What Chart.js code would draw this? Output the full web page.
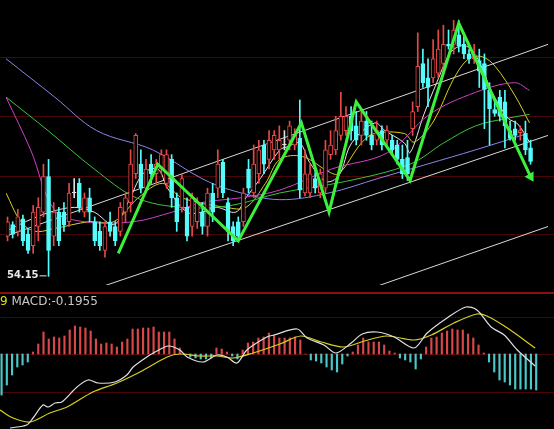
<!DOCTYPE html>
<html>
<head>
<meta charset="utf-8">
<script src="https://cdn.jsdelivr.net/npm/chart.js@4.4.1/dist/chart.umd.min.js"></script>
<style>
  html, body { margin: 0; padding: 0; background: #000; }
  #wrap { position: relative; width: 554px; height: 429px; overflow: hidden; }
  #priceBox { position: absolute; left: 0; top: 0; width: 554px; height: 291px; }
  #macdBox { position: absolute; left: 0; top: 291px; width: 554px; height: 138px; }
  #macdLabel { position: absolute; left: 0; top: 294px; font: 12px "DejaVu Sans", sans-serif; color: #c8c8c8; }
  #macdLabel span { color: #e0e000; }
</style>
</head>
<body>
<div id="wrap">
  <div id="priceBox"><canvas id="priceChart" width="554" height="291"></canvas></div>
  <div id="macdBox"><canvas id="macdChart" width="554" height="138"></canvas></div>
  <div id="macdLabel"><span>9</span> MACD:-0.1955</div>
</div>
<script>
// candles (one per trading day)
const openPrices = [56.25,56.85,56.5,57.15,56.35,55.75,56.75,57.5,59.35,56.25,57.5,57.5,57.0,58.5,59.0,57.5,58.25,57.0,56.5,55.5,57.0,56.75,56.5,57.5,58.0,59.5,60.0,58.75,60.0,59.5,59.75,59.0,60.25,58.25,57.75,57.75,56.75,57.0,57.5,56.75,58.5,58.75,60.1,58.0,56.75,57.0,57.0,59.75,58.5,59.5,61.0,60.25,60.75,60.75,61.0,61.25,61.0,61.35,58.5,58.5,59.25,58.5,58.75,60.5,60.75,61.5,61.75,62.5,62.0,61.5,62.25,61.5,61.25,61.75,61.25,61.25,61.0,60.25,60.35,61.85,63.0,65.25,64.5,64.5,64.75,65.25,66.25,66.25,66.75,66.25,65.75,65.5,65.4,65.25,63.85,62.85,63.5,63.25,61.75,61.85,61.65,61.6,60.85];
const closePrices = [57.0,56.35,57.25,56.0,55.5,57.5,57.75,59.35,55.5,57.5,56.0,56.85,58.5,58.55,57.75,58.25,57.5,56.0,55.75,56.75,56.5,56.0,57.75,58.25,60.0,61.5,58.75,59.75,59.5,60.0,60.5,60.5,58.25,57.0,59.25,56.25,58.25,58.0,56.75,58.5,57.5,60.0,58.5,56.5,56.0,56.25,58.5,58.75,60.0,60.75,60.0,61.25,61.5,61.25,61.05,62.0,61.5,58.65,59.5,59.5,58.75,59.5,60.75,61.0,61.75,62.5,62.5,61.75,61.25,62.25,61.5,61.0,61.75,61.0,61.75,60.75,60.25,59.5,59.5,62.75,65.1,64.25,64.0,65.5,66.0,66.25,66.15,67.0,66.15,65.75,65.5,65.75,64.85,63.9,62.9,62.65,62.5,62.0,61.35,61.5,61.75,60.75,60.15];
const highPrices = [57.25,57.0,57.65,57.35,56.65,57.85,58.25,60.0,60.25,58.0,57.75,58.0,59.0,59.25,59.25,58.5,58.75,57.25,57.0,57.0,57.5,57.0,58.0,58.5,60.75,61.6,60.75,60.25,60.5,60.25,60.75,60.75,60.5,58.5,59.5,58.25,58.5,58.25,58.0,58.75,59.0,60.75,60.25,58.25,57.0,57.25,58.75,60.25,61.0,61.25,61.25,61.75,61.75,62.0,61.75,62.25,61.85,63.35,60.75,60.0,59.75,59.75,61.25,61.75,62.5,63.75,63.0,63.0,62.75,62.75,62.75,62.25,62.25,62.0,62.0,61.5,61.25,61.0,61.25,63.25,66.85,66.0,65.5,66.5,67.0,67.25,67.0,67.5,67.5,66.75,66.0,66.25,66.0,65.75,64.25,63.25,63.85,63.85,62.25,62.25,62.0,62.25,61.25];
const lowPrices = [56.0,56.15,56.25,55.75,55.35,55.35,56.0,57.25,54.15,55.75,55.75,56.5,56.75,58.25,57.5,57.25,57.0,55.75,55.5,55.15,56.25,55.75,56.25,57.0,57.5,59.25,58.5,58.5,59.0,59.0,59.5,58.75,57.75,56.5,57.5,56.0,56.25,56.65,56.35,56.25,57.0,58.25,58.25,56.0,55.75,56.0,56.75,58.5,58.25,59.0,59.5,59.75,60.25,60.25,60.75,60.75,60.75,58.25,58.35,58.25,58.5,58.25,58.5,60.25,60.5,61.25,61.5,61.25,61.0,61.0,61.25,60.75,61.0,60.75,60.85,60.5,60.0,59.25,59.15,61.5,62.75,64.0,63.0,64.25,64.5,64.75,66.0,65.75,65.85,65.5,65.25,65.25,64.0,61.85,61.0,62.5,62.25,60.85,61.25,61.25,61.25,60.5,60.0];

// moving averages, read at sample days
const ma5Days = [-0.3,3.5,8.3,13.1,16.9,20.7,23.5,26.4,29.3,31.2,35,37.9,40.7,44.5,46.5,49.3,53.1,54.5,57,58.9,62.1,64.6,67.1,71.6,73.6,77.4,78.5,81.2,83.7,86.2,88.1,89.9,91.9,94.5,97.6,99.5,101.8];
const ma5Values = [56.5,57.0,57.5,57.75,57.5,56.85,58.0,59.5,59.75,58.75,57.5,57.5,57.75,57.5,58.25,59.25,60.75,60.9,61.1,60.1,59.1,59.4,61.1,62.15,61.75,61.1,60.6,62.6,64.25,65.75,66.15,66.1,65.4,63.75,62.4,62.1,61.15];
const ma10Days = [-0.3,2.6,5.4,9.2,15.9,20.7,25.5,30.2,34,42.6,46.5,50.3,53.1,57.5,62.7,64.6,69,71.6,77.4,79.3,83.1,86.9,89.9,92.6,95.1,98.9,101.8];
const ma10Values = [58.5,57.0,56.5,56.65,57.0,57.0,58.25,59.0,58.25,57.75,57.75,59.0,60.25,60.4,59.6,59.5,61.1,61.6,61.6,61.15,62.25,64.4,65.5,65.6,65.1,63.6,62.15];
const ma20Days = [-0.3,4.5,9.2,15,24.5,32.1,37.9,45.5,53.1,63.2,74.1,82.3,91.3,98.9,101.8];
const ma20Values = [63.5,60.75,57.6,57.0,57.0,57.5,58.0,58.25,58.65,59.75,60.6,62.6,63.75,64.25,63.85];
const ma30Days = [-0.3,7.9,16.9,25.1,34,43.6,53.1,65.9,78.5,85,91.3,97.6,101.8];
const ma30Values = [63.5,61.75,59.75,58.25,57.75,57.85,58.5,59.1,60.0,61.1,62.0,62.4,62.6];
const ma60Days = [-0.3,9.2,17.4,28.3,37.9,44.2,53.1,62.7,72.2,81.8,91.3,101.4];
const ma60Values = [65.5,63.5,61.75,60.75,59.25,58.6,58.15,58.5,59.25,60.0,60.75,61.6];

// zigzag swing points and trend channel
const swingDays = [21.6,29.3,45,57.3,62.7,68,78.5,88,102];
const swingPrices = [55.35,60.0,56.0,62.15,57.5,63.25,59.15,67.35,59.35];
const channelTop = [[-0.3,56.25],[105.4,66.25]];
const channelMid = [[18.8,53.65],[105.4,61.5]];
const channelLow = [[72.2,53.65],[105.4,56.75]];
const priceGrid = [65.6,62.5,59.4,56.35];
const lowMark = { day: 8, price: 54.15 };

// MACD panel
const macdHist = [-0.615,-0.465,-0.315,-0.195,-0.165,-0.12,0.03,0.15,0.33,0.225,0.255,0.24,0.27,0.36,0.42,0.405,0.39,0.345,0.225,0.15,0.165,0.15,0.105,0.18,0.225,0.375,0.375,0.39,0.39,0.405,0.33,0.33,0.33,0.225,0.09,0,-0.045,-0.06,-0.075,-0.075,-0.06,0.09,0.075,0.03,-0.03,-0.075,0.06,0.165,0.18,0.24,0.255,0.315,0.285,0.24,0.24,0.24,0.255,0.21,0,-0.09,-0.105,-0.135,-0.195,-0.24,-0.27,-0.15,-0.03,0.03,0.135,0.24,0.18,0.18,0.18,0.135,0.045,0.015,-0.06,-0.09,-0.12,-0.225,-0.075,0.105,0.24,0.255,0.315,0.345,0.375,0.36,0.36,0.3,0.24,0.135,0.015,-0.12,-0.27,-0.39,-0.42,-0.465,-0.525,-0.525,-0.525,-0.525,-0.54];
const difDays = [1.6,4.8,6,7.9,8.9,10.2,11.5,14.4,16.5,18.4,21.6,23.9,25.1,27.7,29.3,31.8,34,35.4,38.4,41.1,43,44.9,46.8,50.6,52,56.4,58.3,61.5,63.8,66.7,68.8,71.6,74.9,78.7,81.2,85,88.6,90.7,93.4,95.9,98.4,101.8];
const difValues = [-1.11,-1.065,-0.96,-0.765,-0.795,-0.735,-0.72,-0.495,-0.39,-0.435,-0.42,-0.315,-0.195,-0.045,0.03,0.12,0.06,-0.045,-0.12,-0.015,-0.045,-0.135,0.06,0.255,0.285,0.375,0.24,0.135,0.015,0.165,0.3,0.33,0.255,0.09,0.315,0.54,0.705,0.66,0.405,0.285,0.06,-0.18];
const deaDays = [-0.3,2.2,5.4,9.2,12.5,17.4,22,26.4,31.6,34,37.9,41.1,44.2,48,53.1,57.1,61,65.3,69.2,73.5,78.7,82,86.3,90.7,92.6,96.5,101.8];
const deaValues = [-0.84,-0.96,-1.02,-0.885,-0.795,-0.57,-0.435,-0.27,-0.045,0,-0.03,-0.03,-0.06,0.015,0.15,0.27,0.18,0.105,0.195,0.27,0.21,0.285,0.465,0.6,0.57,0.39,0.09];
const macdGrid = [0.555,0,-0.57];

const RED = '#e84848';
const CYAN = '#54fcfc';
const GRID_RED = '#4a0606';

function pts(days, values) {
    return days.map((d, i) => ({ x: d, y: values[i] }));
}

function maLine(days, values, color) {
    return {
        type: 'line',
        data: pts(days, values),
        borderColor: color,
        borderWidth: 1,
        pointRadius: 0,
        tension: 0.35,
        order: 3
    };
}

function segLine(seg) {
    return {
        type: 'line',
        data: seg.map(p => ({ x: p[0], y: p[1] })),
        borderColor: '#d8d8d8',
        borderWidth: 1,
        pointRadius: 0,
        order: 4
    };
}

// draws horizontal grid rows behind the marks
const gridPlugin = {
    id: 'gridRows',
    beforeDatasetsDraw(chart, args, opts) {
        const ctx = chart.ctx;
        const y = chart.scales.y;
        ctx.save();
        ctx.strokeStyle = GRID_RED;
        ctx.lineWidth = 1;
        opts.rows.forEach(v => {
            const py = Math.round(y.getPixelForValue(v)) + 0.5;
            ctx.beginPath();
            ctx.moveTo(0, py);
            ctx.lineTo(chart.width, py);
            ctx.stroke();
        });
        ctx.restore();
    }
};

const lowLabelPlugin = {
    id: 'lowLabel',
    afterDatasetsDraw(chart) {
        const ctx = chart.ctx;
        const px = chart.scales.x.getPixelForValue(lowMark.day);
        const py = chart.scales.y.getPixelForValue(lowMark.price);
        ctx.save();
        ctx.fillStyle = '#e8e8e8';
        ctx.font = 'bold 10px "DejaVu Sans", sans-serif';
        ctx.textBaseline = 'middle';
        ctx.textAlign = 'right';
        ctx.fillText(lowMark.price.toFixed(2), px - 10, py - 1);
        ctx.strokeStyle = '#e8e8e8';
        ctx.beginPath();
        ctx.moveTo(px - 9, py - 0.5);
        ctx.lineTo(px - 2, py - 0.5);
        ctx.stroke();
        ctx.restore();
    }
};

const days = openPrices.map((_, i) => i);
const candleColor = days.map(i => {
    if (Math.abs(closePrices[i] - openPrices[i]) < 0.06) return '#e0e0e0';
    return closePrices[i] > openPrices[i] ? RED : CYAN;
});

const baseScales = (yMin, yMax) => ({
    x: { type: 'linear', min: -0.3, max: 105.4, offset: false, display: false },
    y: { min: yMin, max: yMax, display: false }
});

new Chart(document.getElementById('priceChart'), {
    type: 'bar',
    data: {
        datasets: [
            {
                label: 'wick',
                data: days.map(i => ({ x: i, y: [lowPrices[i], highPrices[i]] })),
                backgroundColor: candleColor,
                barThickness: 1,
                grouped: false,
                order: 2
            },
            {
                label: 'body',
                data: days.map(i => ({ x: i, y: [openPrices[i], closePrices[i]] })),
                backgroundColor: days.map(i => candleColor[i] === RED ? '#000' : candleColor[i]),
                borderColor: candleColor,
                borderWidth: 1,
                borderSkipped: false,
                barThickness: 4,
                minBarLength: 1,
                grouped: false,
                order: 1
            },
            maLine(ma60Days, ma60Values, '#8a86e8'),
            maLine(ma30Days, ma30Values, '#3cc43c'),
            maLine(ma20Days, ma20Values, '#d040c8'),
            maLine(ma10Days, ma10Values, '#d8d020'),
            maLine(ma5Days, ma5Values, '#e8e8e8'),
            segLine(channelTop),
            segLine(channelMid),
            segLine(channelLow),
            {
                type: 'line',
                data: pts(swingDays, swingPrices),
                borderColor: '#3cf03c',
                borderWidth: 3,
                pointRadius: swingDays.map((_, i) => i === swingDays.length - 1 ? 6 : 0),
                pointStyle: 'triangle',
                rotation: 150,
                pointBackgroundColor: '#3cf03c',
                pointBorderWidth: 0,
                order: 0
            }
        ]
    },
    options: {
        responsive: false,
        animation: false,
        layout: { padding: 0 },
        scales: baseScales(53.7, 68.25),
        plugins: {
            legend: { display: false },
            tooltip: { enabled: false },
            gridRows: { rows: priceGrid }
        }
    },
    plugins: [gridPlugin, lowLabelPlugin]
});

new Chart(document.getElementById('macdChart'), {
    type: 'bar',
    data: {
        datasets: [
            {
                data: days.map(i => ({ x: i, y: macdHist[i] })),
                backgroundColor: macdHist.map(v => v >= 0 ? '#d84848' : '#48c8c8'),
                barThickness: 1.5,
                grouped: false,
                order: 3
            },
            {
                type: 'line',
                data: pts(deaDays, deaValues),
                borderColor: '#d8d020',
                borderWidth: 1.2,
                pointRadius: 0,
                tension: 0.3,
                order: 2
            },
            {
                type: 'line',
                data: pts(difDays, difValues),
                borderColor: '#e0e0e0',
                borderWidth: 1.2,
                pointRadius: 0,
                tension: 0.3,
                order: 1
            }
        ]
    },
    options: {
        responsive: false,
        animation: false,
        layout: { padding: 0 },
        scales: baseScales(-1.125, 0.945),
        plugins: {
            legend: { display: false },
            tooltip: { enabled: false },
            gridRows: { rows: macdGrid }
        }
    },
    plugins: [gridPlugin, {
        id: 'panelTop',
        afterDraw(chart) {
            const ctx = chart.ctx;
            ctx.save();
            ctx.fillStyle = '#8a1010';
            ctx.fillRect(0, 1, chart.width, 2);
            ctx.restore();
        }
    }]
});
</script>
</body>
</html>
